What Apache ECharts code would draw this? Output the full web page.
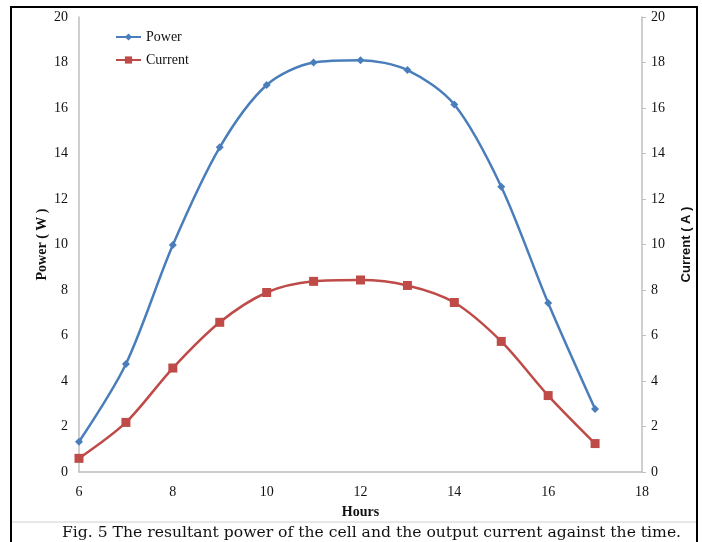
<!DOCTYPE html>
<html>
<head>
<meta charset="utf-8">
<script src="https://cdn.jsdelivr.net/npm/echarts@6/dist/echarts.min.js"></script>
<style>
html,body{margin:0;padding:0;background:#fff;}
#chart{width:702px;height:542px;}
</style>
</head>
<body>
<div id="chart"></div>
<script>
var hours = [6, 7, 8, 9, 10, 11, 12, 13, 14, 15, 16, 17];
var power = [1.33, 4.75, 9.98, 14.27, 17.01, 18.0, 18.1, 17.67, 16.15, 12.54, 7.43, 2.77];
var current = [0.6, 2.18, 4.57, 6.58, 7.89, 8.38, 8.44, 8.2, 7.45, 5.74, 3.36, 1.25];
var caption = 'Fig. 5 The resultant power of the cell and the output current against the time.';

var chart = echarts.init(document.getElementById('chart'), null, {renderer: 'canvas'});
var serif = '"Liberation Serif", "Times New Roman", serif';
var tickLabel = {fontFamily: serif, fontSize: 14, color: '#111'};
var axisLine = {show: true, lineStyle: {color: '#bfbfbf', width: 1.5}};

chart.setOption({
  animation: false,
  backgroundColor: '#fff',
  grid: {left: 79, right: 60, top: 17, bottom: 70, containLabel: false},
  legend: {
    orient: 'vertical', left: 110, top: 25, itemGap: 9, itemWidth: 25, itemHeight: 9,
    textStyle: {fontFamily: serif, fontSize: 14, color: '#111'},
    data: ['Power', 'Current']
  },
  xAxis: {
    type: 'value', min: 6, max: 18, interval: 2,
    name: 'Hours', nameLocation: 'middle', nameGap: 33, nameMoveOverlap: false,
    nameTextStyle: {fontFamily: serif, fontSize: 14, fontWeight: 'bold', color: '#111'},
    axisLine: axisLine, axisTick: {show: false}, splitLine: {show: false},
    axisLabel: Object.assign({margin: 13}, tickLabel)
  },
  yAxis: [{
    type: 'value', min: 0, max: 20, interval: 2, position: 'left',
    name: 'Power ( W )', nameLocation: 'middle', nameGap: 30, nameRotate: 90, nameMoveOverlap: false,
    nameTextStyle: {fontFamily: serif, fontSize: 14, fontWeight: 'bold', color: '#111'},
    axisLine: axisLine, axisTick: {show: false}, splitLine: {show: false},
    axisLabel: Object.assign({margin: 11}, tickLabel)
  }, {
    type: 'value', min: 0, max: 20, interval: 2, position: 'right',
    name: 'Current ( A )', nameLocation: 'middle', nameGap: 38, nameRotate: 90,
    nameTextStyle: {fontFamily: '"Liberation Sans", Arial, sans-serif', fontSize: 13, fontWeight: 'bold', color: '#111'},
    axisLine: axisLine, axisTick: {show: true, length: 4, lineStyle: {color: '#bfbfbf'}}, splitLine: {show: false},
    axisLabel: Object.assign({margin: 9}, tickLabel)
  }],
  series: [{
    name: 'Power', type: 'line', yAxisIndex: 0, smooth: 0.3,
    data: hours.map(function (h, i) { return [h, power[i]]; }),
    symbol: 'diamond', symbolSize: 8,
    lineStyle: {color: '#4A7EBB', width: 2.5},
    itemStyle: {color: '#4A7EBB'}
  }, {
    name: 'Current', type: 'line', yAxisIndex: 1, smooth: 0.3,
    data: hours.map(function (h, i) { return [h, current[i]]; }),
    symbol: 'rect', symbolSize: 9,
    lineStyle: {color: '#BE4B48', width: 2.5},
    itemStyle: {color: '#BE4B48'}
  }],
  graphic: [{
    type: 'rect', shape: {x: 11, y: 7, width: 686, height: 545},
    style: {fill: 'none', stroke: '#000', lineWidth: 2}, silent: true
  }, {
    type: 'line', shape: {x1: 12, y1: 522, x2: 696, y2: 522},
    style: {stroke: '#d0d0d0', lineWidth: 1}, silent: true
  }, {
    type: 'text', left: 62, top: 525,
    style: {text: caption, font: '15.6px "DejaVu Serif", serif', fill: '#111'}
  }]
});
</script>
</body>
</html>
